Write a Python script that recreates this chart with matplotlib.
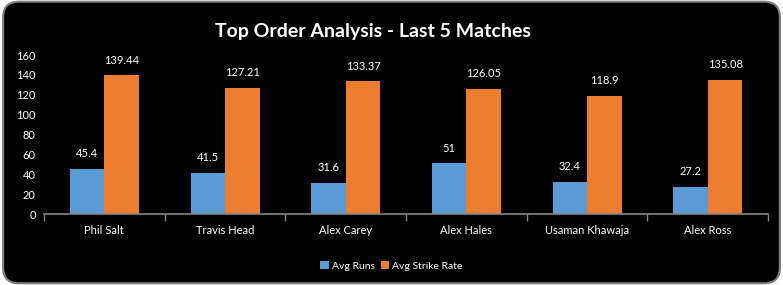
import numpy as np
import matplotlib.pyplot as plt
from matplotlib.patches import FancyBboxPatch

players = ['Phil Salt', 'Travis Head', 'Alex Carey', 'Alex Hales', 'Usaman Khawaja', 'Alex Ross']
avg_runs = [45.4, 41.5, 31.6, 51, 32.4, 27.2]
avg_sr = [139.44, 127.21, 133.37, 126.05, 118.9, 135.08]
labels_runs = ['45.4', '41.5', '31.6', '51', '32.4', '27.2']
labels_sr = ['139.44', '127.21', '133.37', '126.05', '118.9', '135.08']

blue = '#5B9BD5'
orange = '#ED7D31'
plt.rcParams['font.family'] = ['Lato', 'DejaVu Sans']

fig = plt.figure(figsize=(7.83, 2.85), dpi=100, facecolor='white')
border = FancyBboxPatch((0.004, 0.006), 0.992, 0.988, boxstyle='round,pad=0,rounding_size=0.02',
                        transform=fig.transFigure, facecolor='black', edgecolor='#7f7f7f',
                        linewidth=1.5, mutation_aspect=783 / 285, zorder=-5)
fig.patches.append(border)

ax = fig.add_axes([0.0562, 0.249, 0.9248, 0.558])
ax.set_facecolor('none')
x = np.arange(len(players))
w = 0.286
b1 = ax.bar(x - w / 2, avg_runs, w, color=blue, label='Avg Runs')
b2 = ax.bar(x + w / 2, avg_sr, w, color=orange, label='Avg Strike Rate')

for bars, labs in ((b1, labels_runs), (b2, labels_sr)):
    for r, t in zip(bars, labs):
        ax.annotate(t, (r.get_x() + r.get_width() / 2, r.get_height()), xytext=(0, 7),
                    textcoords='offset points', ha='center', va='bottom', color='white', fontsize=8)

ax.set_xlim(-0.5, len(players) - 0.5)
ax.set_ylim(0, 160)
ax.set_yticks(range(0, 161, 20))
ax.set_xticks(x)
ax.set_xticklabels(players)
ax.set_xticks(np.arange(-0.5, len(players), 1), minor=True)
ax.tick_params(axis='x', which='major', length=0, colors='white', labelsize=8, pad=8)
ax.tick_params(axis='x', which='minor', length=5, color='#868686', width=1)
ax.tick_params(axis='y', length=0, colors='white', labelsize=8, pad=6)
for s in ['top', 'right', 'left']:
    ax.spines[s].set_visible(False)
ax.spines['bottom'].set_color('#868686')
ax.spines['bottom'].set_linewidth(1.2)

fig.text(0.476, 0.888, 'Top Order Analysis - Last 5 Matches', ha='center', va='center',
         color='white', fontsize=14, fontweight='bold')
fig.legend(handles=[b1, b2], loc='center', bbox_to_anchor=(0.5, 0.067), ncol=2, frameon=False,
           labelcolor='white', fontsize=7.5, handlelength=0.8, handleheight=0.8,
           handletextpad=0.3, columnspacing=0.6)

plt.savefig('out.png', dpi=100, facecolor='white')
plt.close()
